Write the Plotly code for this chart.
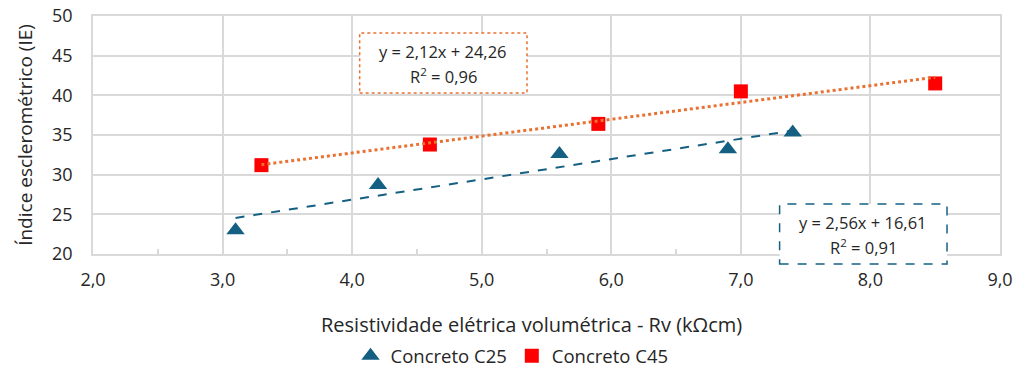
import plotly.graph_objects as go

# Data
x_c25 = [3.1, 4.2, 5.6, 6.9, 7.4]
y_c25 = [23.0, 28.7, 32.6, 33.2, 35.3]
x_c45 = [3.3, 4.6, 5.9, 7.0, 8.5]
y_c45 = [31.2, 33.8, 36.4, 40.5, 41.5]
# Trendline coefficients (as shown on chart)
slope_c25, icpt_c25, r2_c25 = 2.56, 16.61, 0.91
slope_c45, icpt_c45, r2_c45 = 2.12, 24.26, 0.96

BLUE = "#156082"
RED = "#FF0000"
ORANGE = "#E97132"
GRID = "#D9D9D9"
TXT = "#262626"
FONT = "Open Sans, Liberation Sans, Arial, sans-serif"

def fmt(v):
    return f"{v:.2f}".replace(".", ",")

fig = go.Figure()

fig.add_trace(go.Scatter(x=x_c25, y=y_c25, mode="markers", name="Concreto C25",
                         marker=dict(symbol="triangle-up", size=16, color=BLUE)))
fig.add_trace(go.Scatter(x=x_c45, y=y_c45, mode="markers", name="Concreto C45",
                         marker=dict(symbol="square", size=14, color=RED)))

# Trendlines
tx25 = [min(x_c25), max(x_c25)]
fig.add_trace(go.Scatter(x=tx25, y=[slope_c25 * v + icpt_c25 for v in tx25], mode="lines",
                         line=dict(color=BLUE, width=2, dash="dash"), showlegend=False, hoverinfo="skip"))
tx45 = [min(x_c45), max(x_c45)]
fig.add_trace(go.Scatter(x=tx45, y=[slope_c45 * v + icpt_c45 for v in tx45], mode="lines",
                         line=dict(color=ORANGE, width=3, dash="dot"), showlegend=False, hoverinfo="skip"))

fig.update_layout(
    width=1023, height=367,
    margin=dict(l=93, r=23, t=16, b=113, autoexpand=False),
    paper_bgcolor="white", plot_bgcolor="white",
    separators=",.",
    font=dict(family=FONT, size=18, color=TXT),
    legend=dict(orientation="h", x=0.462, xanchor="center", y=-0.43, yanchor="middle",
                font=dict(size=18.5), itemwidth=30, traceorder="normal"),
    xaxis=dict(range=[2, 9], dtick=1, tickformat=".1f", showgrid=True, gridcolor=GRID, gridwidth=1.5,
               showline=True, linecolor=GRID, linewidth=1.5, mirror=True, zeroline=False,
               ticks="", ticklabelstandoff=9, tickfont=dict(size=18),
               minor=dict(dtick=0.5, ticks="inside", ticklen=5, tickcolor=GRID, tickwidth=1.5, showgrid=False)),
    yaxis=dict(range=[20, 50], dtick=5, tickformat="d", showgrid=True, gridcolor=GRID, gridwidth=1.5,
               showline=True, linecolor=GRID, linewidth=1.5, mirror=True, zeroline=False,
               ticks="", ticklabelstandoff=15, tickfont=dict(size=18),
               title=dict(text="Índice esclerométrico (IE)", standoff=14, font=dict(size=19))),
)

# X-axis title (placed as annotation to match the reference's horizontal offset)
fig.add_annotation(xref="paper", yref="paper", x=0.484, y=-0.298, xanchor="center", yanchor="middle",
                   text="Resistividade elétrica volumétrica - Rv (kΩcm)", showarrow=False,
                   font=dict(size=20, color=TXT))

# Trendline label boxes (paper coords: plot area is x 93..1000 px, y 16..254 px)
def box(x0, x1, y0, y1, color, dash, line1, line2):
    fig.add_shape(type="rect", xref="paper", yref="paper", x0=x0, x1=x1, y0=y0, y1=y1,
                  line=dict(color=color, width=1.5, dash=dash), fillcolor="white", layer="above")
    xc = (x0 + x1) / 2
    h = y1 - y0
    fig.add_annotation(xref="paper", yref="paper", x=xc, y=y1 - h * 0.31, xanchor="center", yanchor="middle",
                       text=line1, showarrow=False, font=dict(size=16.5, color=TXT))
    fig.add_annotation(xref="paper", yref="paper", x=xc, y=y1 - h * 0.72, xanchor="center", yanchor="middle",
                       text=line2, showarrow=False, font=dict(size=16.5, color=TXT))

box(0.294, 0.4785, 0.6765, 0.9286, ORANGE, "dot",
    f"y = {fmt(slope_c45)}x + {fmt(icpt_c45)}", f"R<sup>2</sup> = {fmt(r2_c45)}")
box(0.757, 0.9416, -0.042, 0.21, BLUE, "dash",
    f"y = {fmt(slope_c25)}x + {fmt(icpt_c25)}", f"R<sup>2</sup> = {fmt(r2_c25)}")

fig.write_html("out.html")
